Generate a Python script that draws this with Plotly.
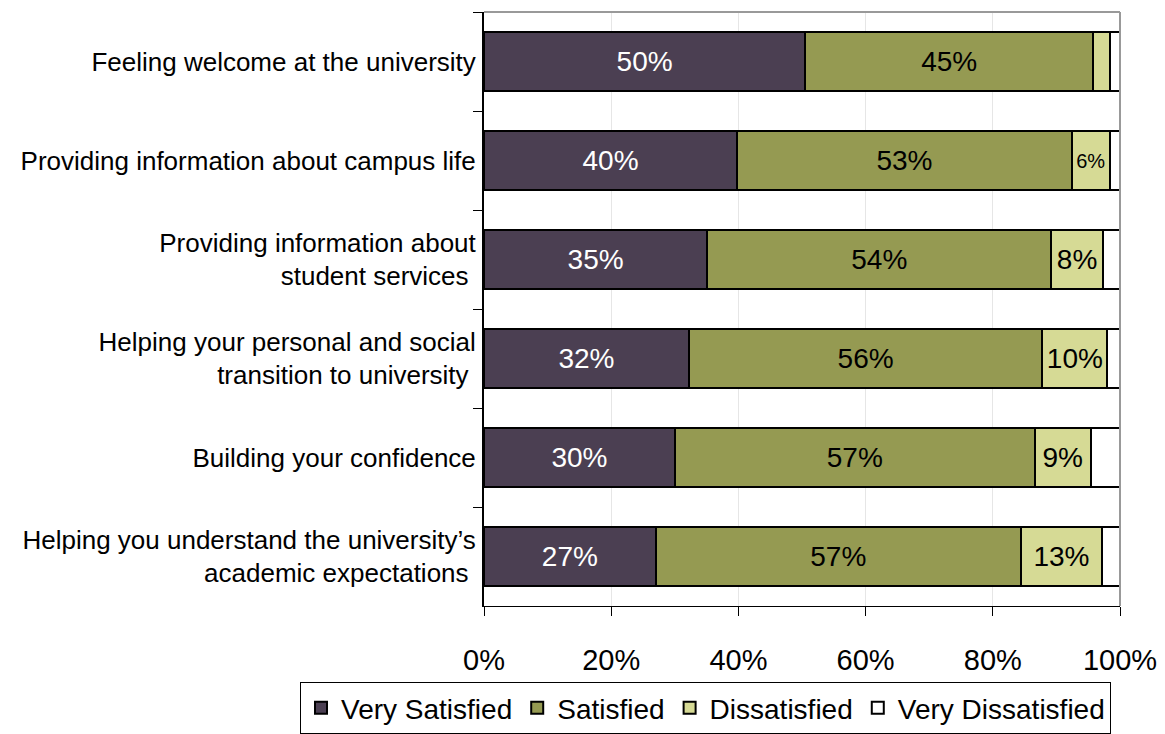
import plotly.graph_objects as go

categories = [
    "Feeling welcome at the university",
    "Providing information about campus life",
    "Providing information about<br>student services\u00a0",
    "Helping your personal and social<br>transition to university\u00a0",
    "Building your confidence",
    "Helping you understand the university\u2019s<br>academic expectations\u00a0",
]

very_satisfied = [50.5, 39.8, 35.1, 32.2, 30.0, 27.0]
satisfied = [45.3, 52.6, 54.1, 55.6, 56.6, 57.4]
dissatisfied = [2.6, 6.0, 8.1, 10.2, 8.8, 12.8]
very_dissatisfied = [1.6, 1.6, 2.7, 2.0, 4.6, 2.8]

vs_labels = ["50%", "40%", "35%", "32%", "30%", "27%"]
s_labels = ["45%", "53%", "54%", "56%", "57%", "57%"]
d_labels = ["", "6%", "8%", "10%", "9%", "13%"]

x_ticks = [0, 20, 40, 60, 80, 100]
x_ticklabels = ["0%", "20%", "40%", "60%", "80%", "100%"]

FONT = 'Liberation Sans, Arial'

series = [
    ("Very Satisfied", very_satisfied, vs_labels, "#4b3f52", "white", 28),
    ("Satisfied", satisfied, s_labels, "#959a52", "black", 28),
    ("Dissatisfied", dissatisfied, d_labels, "#d6da95", "black",
     [28, 20, 28, 28, 28, 28]),
    ("Very Dissatisfied", very_dissatisfied, None, "#ffffff", "black", 28),
]

fig = go.Figure()
for name, vals, labels, color, tcolor, tsize in series:
    fig.add_trace(go.Bar(
        y=categories, x=vals, name=name, orientation='h',
        marker=dict(color=color, line=dict(color='black', width=2)),
        text=labels, textposition='inside', insidetextanchor='middle',
        textfont=dict(color=tcolor, size=tsize, family=FONT),
        constraintext='none', hoverinfo='x+name',
    ))

fig.update_layout(
    barmode='stack', bargap=0.41,
    width=1165, height=734,
    margin=dict(l=484, r=45, t=12, b=128, autoexpand=False),
    plot_bgcolor='white', paper_bgcolor='white',
    font=dict(family=FONT, size=24, color='black'),
    legend=dict(
        orientation='h', x=(300 - 484) / 636, xanchor='left',
        y=(606 - 682) / 594, yanchor='top',
        bordercolor='black', borderwidth=1, font=dict(size=28),
        traceorder='normal', itemwidth=30, tracegroupgap=0,
    ),
    xaxis=dict(
        range=[0, 100], tickvals=x_ticks, ticktext=x_ticklabels,
        showgrid=True, gridcolor='#e6e6e6', gridwidth=1,
        showline=True, linecolor='black', linewidth=1,
        ticks='outside', ticklen=9, tickcolor='black',
        tickfont=dict(size=29), ticklabelstandoff=19, zeroline=False,
        automargin=False,
    ),
    yaxis=dict(
        autorange='reversed', showline=True, linecolor='black', linewidth=2,
        ticks='outside', ticklen=9, tickcolor='black', tickson='boundaries',
        tickfont=dict(size=26), ticklabelstandoff=1, showgrid=False,
        automargin=False,
    ),
    shapes=[
        dict(type='line', xref='paper', yref='paper', x0=0, x1=1, y0=1, y1=1,
             line=dict(color='#999999', width=2)),
        dict(type='line', xref='paper', yref='paper', x0=1, x1=1, y0=0, y1=1,
             line=dict(color='#999999', width=2)),
    ],
)

fig.write_html("out.html", config={'displayModeBar': False},
               post_script="document.body.style.margin='0';")
